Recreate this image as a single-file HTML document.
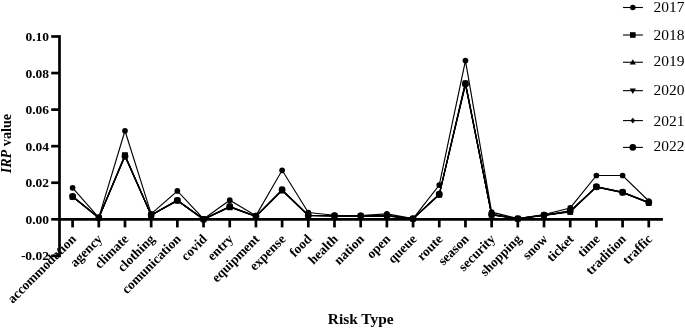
<!DOCTYPE html><html><head><meta charset="utf-8"><style>html,body{margin:0;padding:0;background:#fff;}svg{display:block;filter:blur(0.3px);}text{font-family:"Liberation Serif","Times New Roman",serif;}</style></head><body>
<svg width="685" height="329" viewBox="0 0 685 329">
<rect width="685" height="329" fill="#fff"/>
<g stroke="#000" stroke-width="2.7" fill="none">
<line x1="59.5" y1="35.15" x2="59.5" y2="257.21"/>
<line x1="51.2" y1="255.86" x2="59.5" y2="255.86"/>
<line x1="51.2" y1="219.30" x2="59.5" y2="219.30"/>
<line x1="51.2" y1="182.74" x2="59.5" y2="182.74"/>
<line x1="51.2" y1="146.18" x2="59.5" y2="146.18"/>
<line x1="51.2" y1="109.62" x2="59.5" y2="109.62"/>
<line x1="51.2" y1="73.06" x2="59.5" y2="73.06"/>
<line x1="51.2" y1="36.50" x2="59.5" y2="36.50"/>
<line x1="58.15" y1="219.3" x2="662.9" y2="219.3"/>
<line x1="72.60" y1="219.3" x2="72.60" y2="227.4"/>
<line x1="98.79" y1="219.3" x2="98.79" y2="227.4"/>
<line x1="124.98" y1="219.3" x2="124.98" y2="227.4"/>
<line x1="151.17" y1="219.3" x2="151.17" y2="227.4"/>
<line x1="177.36" y1="219.3" x2="177.36" y2="227.4"/>
<line x1="203.55" y1="219.3" x2="203.55" y2="227.4"/>
<line x1="229.74" y1="219.3" x2="229.74" y2="227.4"/>
<line x1="255.93" y1="219.3" x2="255.93" y2="227.4"/>
<line x1="282.12" y1="219.3" x2="282.12" y2="227.4"/>
<line x1="308.31" y1="219.3" x2="308.31" y2="227.4"/>
<line x1="334.50" y1="219.3" x2="334.50" y2="227.4"/>
<line x1="360.69" y1="219.3" x2="360.69" y2="227.4"/>
<line x1="386.88" y1="219.3" x2="386.88" y2="227.4"/>
<line x1="413.07" y1="219.3" x2="413.07" y2="227.4"/>
<line x1="439.26" y1="219.3" x2="439.26" y2="227.4"/>
<line x1="465.45" y1="219.3" x2="465.45" y2="227.4"/>
<line x1="491.64" y1="219.3" x2="491.64" y2="227.4"/>
<line x1="517.83" y1="219.3" x2="517.83" y2="227.4"/>
<line x1="544.02" y1="219.3" x2="544.02" y2="227.4"/>
<line x1="570.21" y1="219.3" x2="570.21" y2="227.4"/>
<line x1="596.40" y1="219.3" x2="596.40" y2="227.4"/>
<line x1="622.59" y1="219.3" x2="622.59" y2="227.4"/>
<line x1="648.78" y1="219.3" x2="648.78" y2="227.4"/>
</g>
<g font-weight="bold" font-size="13.5" text-anchor="end" fill="#000">
<text x="49" y="260.36">-0.02</text>
<text x="49" y="223.80">0.00</text>
<text x="49" y="187.24">0.02</text>
<text x="49" y="150.68">0.04</text>
<text x="49" y="114.12">0.06</text>
<text x="49" y="77.56">0.08</text>
<text x="49" y="41.00">0.10</text>
</g>
<g fill="none" stroke="#000" stroke-width="1.15" stroke-linejoin="miter">
<polyline points="72.60,196.38 98.79,217.73 124.98,155.05 151.17,215.05 177.36,200.28 203.55,219.30 229.74,206.68 255.93,216.35 282.12,189.85 308.31,215.42 334.50,215.79 360.69,216.07 386.88,215.70 413.07,218.65 439.26,194.28 465.45,82.24 491.64,214.59 517.83,218.65 544.02,215.24 570.21,211.36 596.40,186.53 622.59,192.07 648.78,202.50"/>
<polyline points="72.60,196.83 98.79,217.76 124.98,156.32 151.17,215.14 177.36,200.66 203.55,219.30 229.74,206.93 255.93,216.40 282.12,190.43 308.31,215.50 334.50,215.86 360.69,216.13 386.88,215.77 413.07,218.67 439.26,194.78 465.45,84.96 491.64,214.69 517.83,218.67 544.02,215.32 570.21,211.52 596.40,187.18 622.59,192.61 648.78,202.83"/>
<polyline points="72.60,196.61 98.79,217.75 124.98,155.69 151.17,215.10 177.36,200.47 203.55,219.30 229.74,206.81 255.93,216.38 282.12,190.14 308.31,215.46 334.50,215.83 360.69,216.10 386.88,215.74 413.07,218.66 439.26,194.53 465.45,83.60 491.64,214.64 517.83,218.66 544.02,215.28 570.21,211.44 596.40,186.85 622.59,192.34 648.78,202.67"/>
<polyline points="72.60,196.91 98.79,217.84 124.98,155.14 151.17,215.28 177.36,200.65 203.55,219.30 229.74,207.31 255.93,216.56 282.12,190.60 308.31,215.64 334.50,216.01 360.69,216.38 386.88,216.19 413.07,218.75 439.26,194.80 465.45,83.30 491.64,214.91 517.83,218.75 544.02,215.46 570.21,211.99 596.40,186.94 622.59,192.43 648.78,203.03"/>
<polyline points="72.60,196.30 98.79,217.65 124.98,156.23 151.17,214.91 177.36,200.29 203.55,219.30 229.74,206.30 255.93,216.19 282.12,189.69 308.31,215.28 334.50,215.64 360.69,215.83 386.88,215.28 413.07,218.57 439.26,194.26 465.45,83.90 491.64,214.36 517.83,218.57 544.02,215.10 570.21,210.89 596.40,186.76 622.59,192.25 648.78,202.30"/>
<polyline points="72.60,187.80 98.79,217.65 124.98,130.82 151.17,213.82 177.36,190.95 203.55,218.93 229.74,200.20 255.93,215.64 282.12,170.31 308.31,212.54 334.50,215.28 360.69,215.46 386.88,213.82 413.07,218.57 439.26,185.10 465.45,60.59 491.64,212.17 517.83,218.57 544.02,214.55 570.21,207.97 596.40,175.50 622.59,175.50 648.78,201.02"/>
</g>
<g fill="#000">
<polygon points="72.60,194.13 74.85,196.38 72.60,198.63 70.35,196.38"/>
<polygon points="70.10,195.39 75.10,195.39 72.60,199.72"/>
<polygon points="70.10,198.05 75.10,198.05 72.60,193.72"/>
<rect x="69.70" y="194.01" width="5.8" height="5.8"/>
<circle cx="72.60" cy="196.30" r="3.4"/>
<circle cx="72.60" cy="187.80" r="2.85"/>
<polygon points="98.79,215.48 101.04,217.73 98.79,219.98 96.54,217.73"/>
<polygon points="96.29,216.32 101.29,216.32 98.79,220.65"/>
<polygon points="96.29,219.19 101.29,219.19 98.79,214.86"/>
<rect x="95.89" y="214.94" width="5.8" height="5.8"/>
<circle cx="98.79" cy="217.65" r="3.4"/>
<circle cx="98.79" cy="217.65" r="2.85"/>
<polygon points="124.98,152.80 127.23,155.05 124.98,157.30 122.73,155.05"/>
<polygon points="122.48,154.88 127.48,154.88 124.98,159.21"/>
<polygon points="122.48,157.13 127.48,157.13 124.98,152.80"/>
<rect x="122.08" y="152.24" width="5.8" height="5.8"/>
<circle cx="124.98" cy="156.23" r="3.4"/>
<circle cx="124.98" cy="130.82" r="2.85"/>
<polygon points="151.17,212.80 153.42,215.05 151.17,217.30 148.92,215.05"/>
<polygon points="148.67,213.69 153.67,213.69 151.17,218.02"/>
<polygon points="148.67,216.54 153.67,216.54 151.17,212.21"/>
<rect x="148.27" y="212.38" width="5.8" height="5.8"/>
<circle cx="151.17" cy="214.91" r="3.4"/>
<circle cx="151.17" cy="213.82" r="2.85"/>
<polygon points="177.36,198.03 179.61,200.28 177.36,202.53 175.11,200.28"/>
<polygon points="174.86,199.22 179.86,199.22 177.36,203.55"/>
<polygon points="174.86,201.91 179.86,201.91 177.36,197.58"/>
<rect x="174.46" y="197.75" width="5.8" height="5.8"/>
<circle cx="177.36" cy="200.29" r="3.4"/>
<circle cx="177.36" cy="190.95" r="2.85"/>
<polygon points="203.55,217.05 205.80,219.30 203.55,221.55 201.30,219.30"/>
<polygon points="201.05,217.86 206.05,217.86 203.55,222.19"/>
<polygon points="201.05,220.74 206.05,220.74 203.55,216.41"/>
<rect x="200.65" y="216.40" width="5.8" height="5.8"/>
<circle cx="203.55" cy="219.30" r="3.4"/>
<circle cx="203.55" cy="218.93" r="2.85"/>
<polygon points="229.74,204.43 231.99,206.68 229.74,208.93 227.49,206.68"/>
<polygon points="227.24,205.49 232.24,205.49 229.74,209.82"/>
<polygon points="227.24,208.25 232.24,208.25 229.74,203.92"/>
<rect x="226.84" y="204.41" width="5.8" height="5.8"/>
<circle cx="229.74" cy="206.30" r="3.4"/>
<circle cx="229.74" cy="200.20" r="2.85"/>
<polygon points="255.93,214.10 258.18,216.35 255.93,218.60 253.68,216.35"/>
<polygon points="253.43,214.96 258.43,214.96 255.93,219.29"/>
<polygon points="253.43,217.82 258.43,217.82 255.93,213.49"/>
<rect x="253.03" y="213.66" width="5.8" height="5.8"/>
<circle cx="255.93" cy="216.19" r="3.4"/>
<circle cx="255.93" cy="215.64" r="2.85"/>
<polygon points="282.12,187.60 284.37,189.85 282.12,192.10 279.87,189.85"/>
<polygon points="279.62,188.99 284.62,188.99 282.12,193.32"/>
<polygon points="279.62,191.59 284.62,191.59 282.12,187.26"/>
<rect x="279.22" y="187.70" width="5.8" height="5.8"/>
<circle cx="282.12" cy="189.69" r="3.4"/>
<circle cx="282.12" cy="170.31" r="2.85"/>
<polygon points="308.31,213.17 310.56,215.42 308.31,217.67 306.06,215.42"/>
<polygon points="305.81,214.06 310.81,214.06 308.31,218.39"/>
<polygon points="305.81,216.90 310.81,216.90 308.31,212.57"/>
<rect x="305.41" y="212.74" width="5.8" height="5.8"/>
<circle cx="308.31" cy="215.28" r="3.4"/>
<circle cx="308.31" cy="212.54" r="2.85"/>
<polygon points="334.50,213.54 336.75,215.79 334.50,218.04 332.25,215.79"/>
<polygon points="332.00,214.42 337.00,214.42 334.50,218.75"/>
<polygon points="332.00,217.27 337.00,217.27 334.50,212.94"/>
<rect x="331.60" y="213.11" width="5.8" height="5.8"/>
<circle cx="334.50" cy="215.64" r="3.4"/>
<circle cx="334.50" cy="215.28" r="2.85"/>
<polygon points="360.69,213.82 362.94,216.07 360.69,218.32 358.44,216.07"/>
<polygon points="358.19,214.69 363.19,214.69 360.69,219.02"/>
<polygon points="358.19,217.54 363.19,217.54 360.69,213.21"/>
<rect x="357.79" y="213.48" width="5.8" height="5.8"/>
<circle cx="360.69" cy="215.83" r="3.4"/>
<circle cx="360.69" cy="215.46" r="2.85"/>
<polygon points="386.88,213.45 389.13,215.70 386.88,217.95 384.63,215.70"/>
<polygon points="384.38,214.33 389.38,214.33 386.88,218.66"/>
<polygon points="384.38,217.18 389.38,217.18 386.88,212.85"/>
<rect x="383.98" y="213.29" width="5.8" height="5.8"/>
<circle cx="386.88" cy="215.28" r="3.4"/>
<circle cx="386.88" cy="213.82" r="2.85"/>
<polygon points="413.07,216.40 415.32,218.65 413.07,220.90 410.82,218.65"/>
<polygon points="410.57,217.22 415.57,217.22 413.07,221.55"/>
<polygon points="410.57,220.10 415.57,220.10 413.07,215.77"/>
<rect x="410.17" y="215.85" width="5.8" height="5.8"/>
<circle cx="413.07" cy="218.57" r="3.4"/>
<circle cx="413.07" cy="218.57" r="2.85"/>
<polygon points="439.26,192.03 441.51,194.28 439.26,196.53 437.01,194.28"/>
<polygon points="436.76,193.33 441.76,193.33 439.26,197.66"/>
<polygon points="436.76,195.97 441.76,195.97 439.26,191.64"/>
<rect x="436.36" y="191.90" width="5.8" height="5.8"/>
<circle cx="439.26" cy="194.26" r="3.4"/>
<circle cx="439.26" cy="185.10" r="2.85"/>
<polygon points="465.45,79.99 467.70,82.24 465.45,84.49 463.20,82.24"/>
<polygon points="462.95,83.51 467.95,83.51 465.45,87.84"/>
<polygon points="462.95,85.04 467.95,85.04 465.45,80.71"/>
<rect x="462.55" y="80.40" width="5.8" height="5.8"/>
<circle cx="465.45" cy="83.90" r="3.4"/>
<circle cx="465.45" cy="60.59" r="2.85"/>
<polygon points="491.64,212.34 493.89,214.59 491.64,216.84 489.39,214.59"/>
<polygon points="489.14,213.24 494.14,213.24 491.64,217.57"/>
<polygon points="489.14,216.08 494.14,216.08 491.64,211.75"/>
<rect x="488.74" y="212.01" width="5.8" height="5.8"/>
<circle cx="491.64" cy="214.36" r="3.4"/>
<circle cx="491.64" cy="212.17" r="2.85"/>
<polygon points="517.83,216.40 520.08,218.65 517.83,220.90 515.58,218.65"/>
<polygon points="515.33,217.22 520.33,217.22 517.83,221.55"/>
<polygon points="515.33,220.10 520.33,220.10 517.83,215.77"/>
<rect x="514.93" y="215.85" width="5.8" height="5.8"/>
<circle cx="517.83" cy="218.57" r="3.4"/>
<circle cx="517.83" cy="218.57" r="2.85"/>
<polygon points="544.02,212.99 546.27,215.24 544.02,217.49 541.77,215.24"/>
<polygon points="541.52,213.88 546.52,213.88 544.02,218.21"/>
<polygon points="541.52,216.72 546.52,216.72 544.02,212.39"/>
<rect x="541.12" y="212.56" width="5.8" height="5.8"/>
<circle cx="544.02" cy="215.10" r="3.4"/>
<circle cx="544.02" cy="214.55" r="2.85"/>
<polygon points="570.21,209.11 572.46,211.36 570.21,213.61 567.96,211.36"/>
<polygon points="567.71,210.07 572.71,210.07 570.21,214.40"/>
<polygon points="567.71,212.88 572.71,212.88 570.21,208.55"/>
<rect x="567.31" y="209.09" width="5.8" height="5.8"/>
<circle cx="570.21" cy="210.89" r="3.4"/>
<circle cx="570.21" cy="207.97" r="2.85"/>
<polygon points="596.40,184.28 598.65,186.53 596.40,188.78 594.15,186.53"/>
<polygon points="593.90,185.73 598.90,185.73 596.40,190.06"/>
<polygon points="593.90,188.30 598.90,188.30 596.40,183.97"/>
<rect x="593.50" y="184.04" width="5.8" height="5.8"/>
<circle cx="596.40" cy="186.76" r="3.4"/>
<circle cx="596.40" cy="175.50" r="2.85"/>
<polygon points="622.59,189.82 624.84,192.07 622.59,194.32 620.34,192.07"/>
<polygon points="620.09,191.16 625.09,191.16 622.59,195.49"/>
<polygon points="620.09,193.78 625.09,193.78 622.59,189.45"/>
<rect x="619.69" y="189.53" width="5.8" height="5.8"/>
<circle cx="622.59" cy="192.25" r="3.4"/>
<circle cx="622.59" cy="175.50" r="2.85"/>
<polygon points="648.78,200.25 651.03,202.50 648.78,204.75 646.53,202.50"/>
<polygon points="646.28,201.39 651.28,201.39 648.78,205.72"/>
<polygon points="646.28,204.11 651.28,204.11 648.78,199.78"/>
<rect x="645.88" y="200.13" width="5.8" height="5.8"/>
<circle cx="648.78" cy="202.30" r="3.4"/>
<circle cx="648.78" cy="201.02" r="2.85"/>
</g>
<g font-weight="bold" font-size="13.4" text-anchor="end" fill="#000">
<text transform="translate(76.90,239.80) rotate(-45)">accommodation</text>
<text transform="translate(103.09,239.80) rotate(-45)">agency</text>
<text transform="translate(129.28,239.80) rotate(-45)">climate</text>
<text transform="translate(155.47,239.80) rotate(-45)">clothing</text>
<text transform="translate(181.66,239.80) rotate(-45)">comunication</text>
<text transform="translate(207.85,239.80) rotate(-45)">covid</text>
<text transform="translate(234.04,239.80) rotate(-45)">entry</text>
<text transform="translate(260.23,239.80) rotate(-45)">equipment</text>
<text transform="translate(286.42,239.80) rotate(-45)">expense</text>
<text transform="translate(312.61,239.80) rotate(-45)">food</text>
<text transform="translate(338.80,239.80) rotate(-45)">health</text>
<text transform="translate(364.99,239.80) rotate(-45)">nation</text>
<text transform="translate(391.18,239.80) rotate(-45)">open</text>
<text transform="translate(417.37,239.80) rotate(-45)">queue</text>
<text transform="translate(443.56,239.80) rotate(-45)">route</text>
<text transform="translate(469.75,239.80) rotate(-45)">season</text>
<text transform="translate(495.94,239.80) rotate(-45)">security</text>
<text transform="translate(522.13,239.80) rotate(-45)">shopping</text>
<text transform="translate(548.32,239.80) rotate(-45)">snow</text>
<text transform="translate(574.51,239.80) rotate(-45)">ticket</text>
<text transform="translate(600.70,239.80) rotate(-45)">time</text>
<text transform="translate(626.89,239.80) rotate(-45)">tradition</text>
<text transform="translate(653.08,239.80) rotate(-45)">traffic</text>
</g>
<text x="360.7" y="324.2" font-weight="bold" font-size="15.4" text-anchor="middle">Risk Type</text>
<text transform="translate(11.4,143.6) rotate(-90)" font-weight="bold" font-size="14.2" text-anchor="middle"><tspan font-style="italic">IRP</tspan> value</text>
<g>
<line x1="623" y1="7.50" x2="642.9" y2="7.50" stroke="#000" stroke-width="1.1"/>
<circle cx="632.80" cy="7.50" r="2.8"/>
<text x="653.6" y="11.90" font-size="15.5" fill="#000">2017</text>
<line x1="623" y1="35.00" x2="642.9" y2="35.00" stroke="#000" stroke-width="1.1"/>
<rect x="630.00" y="32.20" width="5.6" height="5.6"/>
<text x="653.6" y="40.20" font-size="15.5" fill="#000">2018</text>
<line x1="623" y1="62.25" x2="642.9" y2="62.25" stroke="#000" stroke-width="1.1"/>
<polygon points="629.70,64.54 635.90,64.54 632.80,59.17"/>
<text x="653.6" y="66.40" font-size="15.5" fill="#000">2019</text>
<line x1="623" y1="90.65" x2="642.9" y2="90.65" stroke="#000" stroke-width="1.1"/>
<polygon points="629.70,88.56 635.90,88.56 632.80,93.93"/>
<text x="653.6" y="95.40" font-size="15.5" fill="#000">2020</text>
<line x1="623" y1="120.60" x2="642.9" y2="120.60" stroke="#000" stroke-width="1.1"/>
<polygon points="632.80,117.80 635.10,120.60 632.80,123.40 630.50,120.60"/>
<text x="653.6" y="125.50" font-size="15.5" fill="#000">2021</text>
<line x1="623" y1="147.40" x2="642.9" y2="147.40" stroke="#000" stroke-width="1.1"/>
<circle cx="632.80" cy="147.40" r="3.3"/>
<text x="653.6" y="151.40" font-size="15.5" fill="#000">2022</text>
</g>
</svg></body></html>
